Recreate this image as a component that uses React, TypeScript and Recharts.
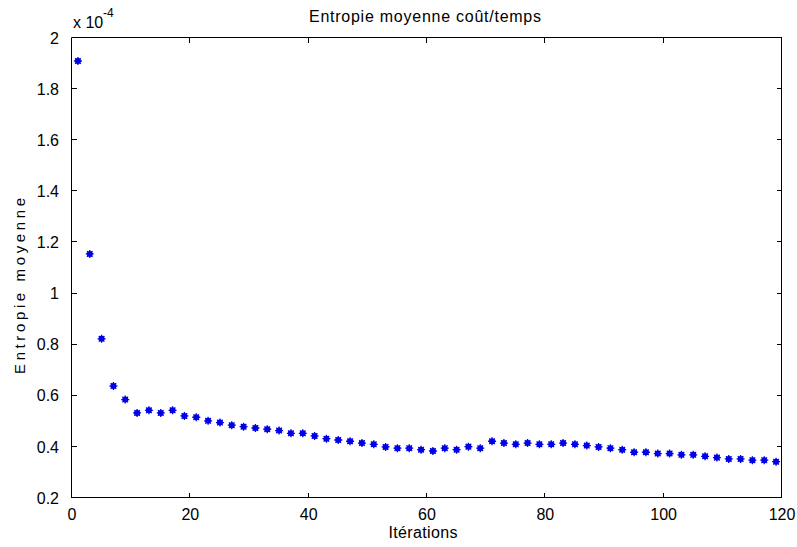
import React from "react";
import { ScatterChart, Scatter, XAxis, YAxis } from "recharts";

const iterations = [
  1, 3, 5, 7, 9, 11, 13, 15, 17, 19, 21, 23, 25, 27, 29, 31, 33, 35, 37, 39,
  41, 43, 45, 47, 49, 51, 53, 55, 57, 59, 61, 63, 65, 67, 69, 71, 73, 75, 77, 79,
  81, 83, 85, 87, 89, 91, 93, 95, 97, 99, 101, 103, 105, 107, 109, 111, 113, 115, 117, 119,
];

// entropie moyenne, in units of 1e-4
const entropy = [
  1.91, 1.155, 0.823, 0.638, 0.585, 0.533, 0.543, 0.533, 0.543, 0.521,
  0.516, 0.502, 0.495, 0.485, 0.479, 0.474, 0.469, 0.464, 0.453, 0.453,
  0.443, 0.432, 0.427, 0.422, 0.415, 0.41, 0.4, 0.395, 0.395, 0.389,
  0.384, 0.395, 0.389, 0.401, 0.395, 0.422, 0.415, 0.41, 0.415, 0.41,
  0.41, 0.415, 0.41, 0.405, 0.4, 0.395, 0.389, 0.379, 0.379, 0.374,
  0.374, 0.369, 0.369, 0.363, 0.358, 0.353, 0.353, 0.348, 0.348, 0.342,
];

const xTicks = [0, 20, 40, 60, 80, 100, 120];
const yTicks = [0.2, 0.4, 0.6, 0.8, 1, 1.2, 1.4, 1.6, 1.8, 2];
const xDomain = [0, 120];
const yDomain = [0.2, 2];

const data = iterations.map((it, i) => ({ it, val: entropy[i] }));

const FONT = '"Liberation Sans", Arial, sans-serif';
const BLUE = "#0000e6";

const W = 797;
const H = 547;
const margin = { top: 38, right: 15, left: 0, bottom: 0 };
const xAxisHeight = 49;
const yAxisWidth = 72;

// plot box, same as the one recharts derives from the margins and axis sizes
const left = margin.left + yAxisWidth;
const right = W - margin.right;
const top = margin.top;
const bottom = H - margin.bottom - xAxisHeight;
const sx = (v: number) => left + ((v - xDomain[0]) / (xDomain[1] - xDomain[0])) * (right - left);
const sy = (v: number) => bottom - ((v - yDomain[0]) / (yDomain[1] - yDomain[0])) * (bottom - top);

const Star = (props: any) => {
  const { cx, cy } = props;
  if (cx == null || cy == null) return null;
  const r = 4;
  const d = r * 0.7;
  return (
    <g>
      <circle cx={cx} cy={cy} r={3} fill={BLUE} />
      <path
        d={`M${cx - r},${cy}H${cx + r}M${cx},${cy - r}V${cy + r}M${cx - d},${cy - d}L${cx + d},${cy + d}M${cx - d},${cy + d}L${cx + d},${cy - d}`}
        stroke={BLUE}
        strokeWidth={1.3}
      />
    </g>
  );
};

const fmtY = (v: number) => String(Number(v.toFixed(1)));

export default function App() {
  const tickStyle = { fill: "#000", fontSize: 16, fontFamily: FONT };
  const tl = 5;
  const frame = `M${left - 0.5},${top - 0.5}H${right - 0.5}V${bottom - 0.5}H${left - 0.5}Z`;
  const ticks =
    xTicks
      .map((t) => {
        const x = Math.round(sx(t)) - 0.5;
        return `M${x},${bottom}v${-tl}M${x},${top}v${tl}`;
      })
      .join("") +
    yTicks
      .map((t) => {
        const y = Math.round(sy(t)) - 0.5;
        return `M${left},${y}h${tl}M${right},${y}h${-tl}`;
      })
      .join("");
  return (
    <div style={{ position: "absolute", left: 0, top: 0, width: W, height: H, background: "#fff" }}>
      <ScatterChart width={W} height={H} margin={margin}>
        <XAxis
          dataKey="it"
          type="number"
          domain={xDomain}
          ticks={xTicks}
          height={xAxisHeight}
          axisLine={false}
          tickLine={false}
          tickMargin={5}
          tick={tickStyle}
          allowDataOverflow
        />
        <YAxis
          dataKey="val"
          type="number"
          domain={yDomain}
          ticks={yTicks}
          width={yAxisWidth}
          axisLine={false}
          tickLine={false}
          tickMargin={7}
          tick={tickStyle}
          tickFormatter={fmtY}
          allowDataOverflow
        />
        <Scatter data={data} shape={Star} isAnimationActive={false} />
      </ScatterChart>
      <svg
        width={W}
        height={H}
        style={{ position: "absolute", left: 0, top: 0, pointerEvents: "none" }}
        fontFamily={FONT}
      >
        <path d={frame} fill="none" stroke="#000" strokeWidth={1} />
        <path d={ticks} fill="none" stroke="#000" strokeWidth={1} />
        <text x={425} y={22} fontSize={16} textAnchor="middle" textLength={232} lengthAdjust="spacing">
          Entropie moyenne coût/temps
        </text>
        <text x={73} y={28} fontSize={16}>
          x 10
        </text>
        <text x={103} y={17} fontSize={12}>
          -4
        </text>
        <text
          x={0}
          y={0}
          fontSize={15}
          textAnchor="middle"
          transform="translate(25,286) rotate(-90)"
          textLength={176}
          lengthAdjust="spacing"
        >
          Entropie moyenne
        </text>
        <text x={423} y={538} fontSize={16} textAnchor="middle" textLength={69} lengthAdjust="spacing">
          Itérations
        </text>
      </svg>
    </div>
  );
}
